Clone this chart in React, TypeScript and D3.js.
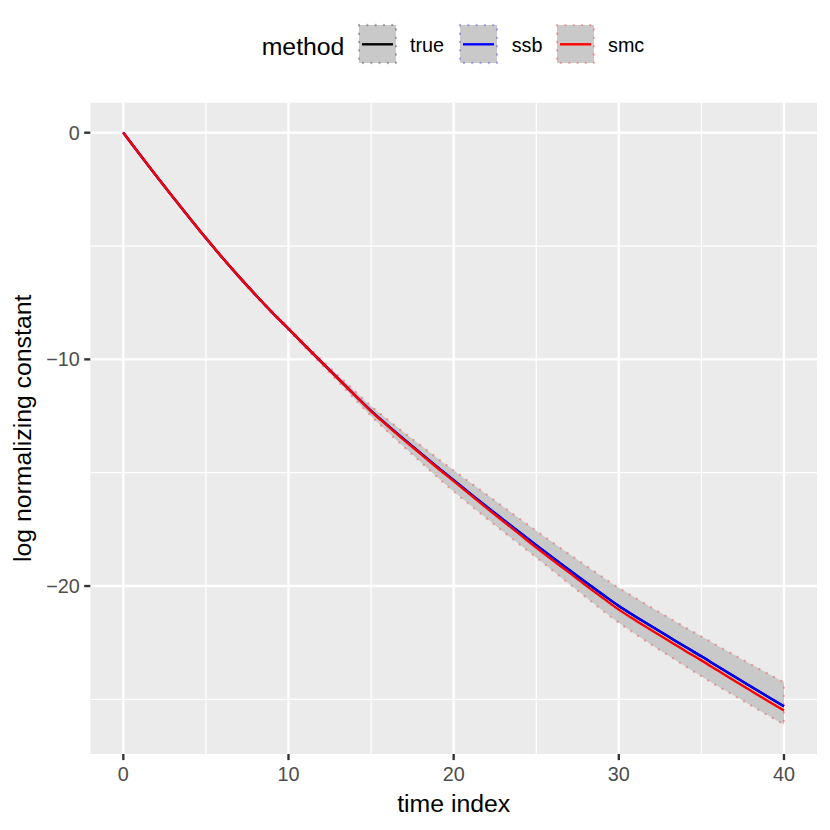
import React from "react";
import * as d3 from "d3";

const timeIndex = [0,1,2,3,4,5,6,7,8,9,10,11,12,13,14,15,16,17,18,19,20,21,22,23,24,25,26,27,28,29,30,31,32,33,34,35,36,37,38,39,40];

const trueValues = [0,-0.96,-1.91,-2.84,-3.75,-4.65,-5.52,-6.35,-7.15,-7.92,-8.65,-9.39,-10.12,-10.84,-11.56,-12.27,-12.91,-13.53,-14.14,-14.74,-15.33,-15.92,-16.50,-17.07,-17.64,-18.20,-18.75,-19.29,-19.83,-20.36,-20.88,-21.34,-21.79,-22.23,-22.67,-23.10,-23.55,-23.99,-24.43,-24.87,-25.30];

const ssbValues = [0,-0.96,-1.91,-2.84,-3.75,-4.65,-5.52,-6.35,-7.15,-7.92,-8.65,-9.39,-10.12,-10.84,-11.56,-12.27,-12.91,-13.53,-14.14,-14.74,-15.33,-15.92,-16.50,-17.07,-17.64,-18.20,-18.75,-19.29,-19.83,-20.36,-20.88,-21.34,-21.79,-22.23,-22.67,-23.10,-23.55,-23.99,-24.43,-24.87,-25.30];

const smcValues = [0,-0.96,-1.91,-2.84,-3.75,-4.65,-5.52,-6.35,-7.15,-7.92,-8.65,-9.39,-10.12,-10.85,-11.57,-12.29,-12.93,-13.56,-14.17,-14.78,-15.37,-15.97,-16.56,-17.14,-17.72,-18.30,-18.86,-19.41,-19.97,-20.51,-21.04,-21.51,-21.96,-22.40,-22.85,-23.28,-23.73,-24.18,-24.62,-25.06,-25.49];

const smcUpper = [0,-0.95,-1.90,-2.82,-3.73,-4.62,-5.49,-6.31,-7.10,-7.86,-8.58,-9.30,-10.01,-10.70,-11.38,-12.06,-12.65,-13.23,-13.79,-14.35,-14.89,-15.43,-15.96,-16.50,-17.03,-17.56,-18.08,-18.59,-19.09,-19.59,-20.08,-20.52,-20.96,-21.38,-21.81,-22.22,-22.64,-23.04,-23.45,-23.85,-24.25];

const smcLower = [0,-0.97,-1.92,-2.86,-3.77,-4.68,-5.55,-6.39,-7.20,-7.98,-8.72,-9.48,-10.23,-10.98,-11.74,-12.50,-13.19,-13.87,-14.53,-15.19,-15.83,-16.43,-17.02,-17.60,-18.17,-18.74,-19.32,-19.91,-20.49,-21.07,-21.62,-22.12,-22.60,-23.06,-23.53,-23.98,-24.42,-24.84,-25.27,-25.69,-26.11];

const methods = ["true", "ssb", "smc"];
const methodColors = ["#000000", "#0000FF", "#FF0000"];
const dotColors = ["rgba(0,0,0,0.3)", "rgba(0,0,255,0.3)", "rgba(255,0,0,0.3)"];

const xMajor = [0, 10, 20, 30, 40];
const xMinor = [5, 15, 25, 35];
const yMajor = [0, -10, -20];
const yMinor = [-5, -15, -25];
const yTickLabels = ["0", "\u221210", "\u221220"];
const xTickLabels = ["0", "10", "20", "30", "40"];

const FONT = "'Liberation Sans', Arial, Helvetica, sans-serif";

export default function App() {
  const W = 830, H = 830;
  const left = 90.3, right = 817, top = 102.7, bottom = 754;
  const x = d3.scaleLinear().domain([-2, 42]).range([left, right]);
  const y = d3.scaleLinear().domain([-27.41, 1.324]).range([bottom, top]);

  const series = [trueValues, ssbValues, smcValues];
  const line = d3
    .line<number>()
    .x((_, i) => x(timeIndex[i]))
    .y((d) => y(d))
    .curve(d3.curveMonotoneX);
  const area = d3
    .area<number>()
    .x((_, i) => x(timeIndex[i]))
    .y0((_, i) => y(smcLower[i]))
    .y1((d) => y(d))
    .curve(d3.curveMonotoneX);

  const n = timeIndex.length;
  const upperLine = line(smcUpper) || "";
  const lowerRev = d3
    .line<number>()
    .x((_, i) => x(timeIndex[n - 1 - i]))
    .y((d) => y(d))
    .curve(d3.curveMonotoneX)([...smcLower].reverse()) || "";
  const outline = upperLine + "L" + lowerRev.slice(1) + "Z";

  const legendKeys = [
    { key: 359, label: 410 },
    { key: 460, label: 511.7 },
    { key: 557, label: 608 },
  ];

  const tickFont = 19.8;
  const titleFont = 24.8;

  return (
    <svg width={W} height={H} style={{ position: "absolute", left: 0, top: 0, background: "#fff" }} fontFamily={FONT}>
      <rect x={0} y={0} width={W} height={H} fill="#fff" />
      <rect x={left} y={top} width={right - left} height={bottom - top} fill="#EBEBEB" />
      {xMinor.map((v) => (
        <line key={"xm" + v} x1={x(v)} x2={x(v)} y1={top} y2={bottom} stroke="#fff" strokeWidth={1.18} />
      ))}
      {yMinor.map((v) => (
        <line key={"ym" + v} x1={left} x2={right} y1={y(v)} y2={y(v)} stroke="#fff" strokeWidth={1.18} />
      ))}
      {xMajor.map((v) => (
        <line key={"xM" + v} x1={x(v)} x2={x(v)} y1={top} y2={bottom} stroke="#fff" strokeWidth={2.37} />
      ))}
      {yMajor.map((v) => (
        <line key={"yM" + v} x1={left} x2={right} y1={y(v)} y2={y(v)} stroke="#fff" strokeWidth={2.37} />
      ))}

      <path d={area(smcUpper) || ""} fill="#C9C9C9" />
      <path d={outline} fill="none" stroke={dotColors[2]} strokeWidth={2.37} strokeDasharray="0.01 8.3" strokeLinecap="round" />

      {series.map((s, k) => (
        <path key={methods[k]} d={line(s) || ""} fill="none" stroke={methodColors[k]} strokeWidth={2.37} />
      ))}

      {yMajor.map((v, i) => (
        <g key={"yt" + v}>
          <line x1={left - 6.1} x2={left} y1={y(v)} y2={y(v)} stroke="#333333" strokeWidth={2.37} />
          <text x={left - 10.5} y={y(v) + 7} textAnchor="end" fontSize={tickFont} fill="#4D4D4D">
            {yTickLabels[i]}
          </text>
        </g>
      ))}
      {xMajor.map((v, i) => (
        <g key={"xt" + v}>
          <line x1={x(v)} x2={x(v)} y1={bottom} y2={bottom + 6.1} stroke="#333333" strokeWidth={2.37} />
          <text x={x(v)} y={780.7} textAnchor="middle" fontSize={tickFont} fill="#4D4D4D">
            {xTickLabels[i]}
          </text>
        </g>
      ))}
      <text x={(left + right) / 2} y={811.5} textAnchor="middle" fontSize={titleFont} fill="#000">
        time index
      </text>
      <text
        transform={`translate(31.3, ${(top + bottom) / 2}) rotate(-90)`}
        textAnchor="middle"
        fontSize={titleFont}
        fill="#000"
      >
        log normalizing constant
      </text>

      <text x={261.7} y={55} fontSize={titleFont} fill="#000">
        method
      </text>
      {legendKeys.map((lk, k) => (
        <g key={"lg" + k}>
          <rect x={lk.key} y={25} width={37} height={38} fill="#C9C9C9" />
          <rect
            x={lk.key}
            y={25}
            width={37}
            height={38}
            fill="none"
            stroke={dotColors[k]}
            strokeWidth={2.37}
            strokeDasharray="0.01 8.3"
            strokeLinecap="round"
          />
          <line x1={lk.key + 3} x2={lk.key + 34} y1={44.3} y2={44.3} stroke={methodColors[k]} strokeWidth={2.37} />
          <text x={lk.label} y={51.7} fontSize={tickFont} fill="#000">
            {methods[k]}
          </text>
        </g>
      ))}
    </svg>
  );
}
